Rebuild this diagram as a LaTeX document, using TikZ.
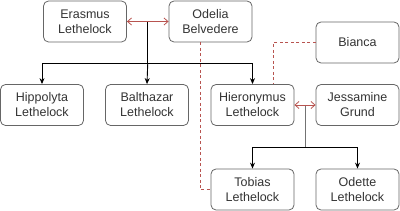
\documentclass[tikz,border=0pt]{standalone}
\usepackage{fontspec}
\setmainfont{Liberation Sans}
\usetikzlibrary{arrows.meta,calc}
\definecolor{txt}{HTML}{333333}
\definecolor{rel}{HTML}{B85450}
\begin{document}
\begin{tikzpicture}[x=1pt,y=-1pt,
  person/.style={draw=black!60,line width=0.8pt,rounded corners=5pt,minimum width=83pt,minimum height=41pt,
    align=center,text=txt,font=\fontsize{12.5}{15}\selectfont,inner sep=0pt},
  spouse/.style={rel,line width=0.8pt,{Straight Barb[length=4pt,width=7pt]}-{Straight Barb[length=4pt,width=7pt]}},
  other/.style={rel,line width=0.8pt,dashed,dash pattern=on 3pt off 2.5pt},
  child/.style={black,line width=0.9pt,-{Stealth[length=6pt,width=5pt]}},
  childline/.style={black,line width=0.9pt}]
\useasboundingbox (0,0) rectangle (400,211);
\node[person] (era) at (85,21.5) {Erasmus\\Lethelock};
\node[person] (ode) at (210.5,21.5) {Odelia\\Belvedere};
\node[person] (hip) at (42,105) {Hippolyta\\Lethelock};
\node[person] (bal) at (147,105) {Balthazar\\Lethelock};
\node[person] (hie) at (252.5,105) {Hieronymus\\Lethelock};
\node[person] (jes) at (357.5,105) {Jessamine\\Grund};
\node[person] (bia) at (357.5,42.5) {Bianca};
\node[person] (tob) at (252.5,189.5) {Tobias\\Lethelock};
\node[person] (odt) at (357.5,189.5) {Odette\\Lethelock};
\coordinate (m1) at ($(era.east)!0.5!(ode.west)$);
\coordinate (b1) at ($(m1)+(0,41.5)$);
\coordinate (m2) at ($(hie.east)!0.5!(jes.west)$);
\coordinate (b2) at ($(m2)+(0,42)$);
\coordinate (hiq) at ($(hie.north)+(21,0)$);
\coordinate (ods) at ($(ode.south)+(-10.5,0)$);
\draw[other] (bia.west) -| (hiq);
\draw[other] (ods) |- (tob.west);
\draw[childline] (m1) -- (b1);
\draw[child] (b1) -- (bal.north);
\draw[child] (b1) -| (hip.north);
\draw[child] (b1) -| (hie.north);
\draw[childline,black!55] (m2) -- (b2);
\draw[child] (b2) -| (tob.north);
\draw[child] (b2) -| (odt.north);
\draw[spouse] (era.east) -- (ode.west);
\draw[spouse] (hie.east) -- (jes.west);
\end{tikzpicture}
\end{document}
